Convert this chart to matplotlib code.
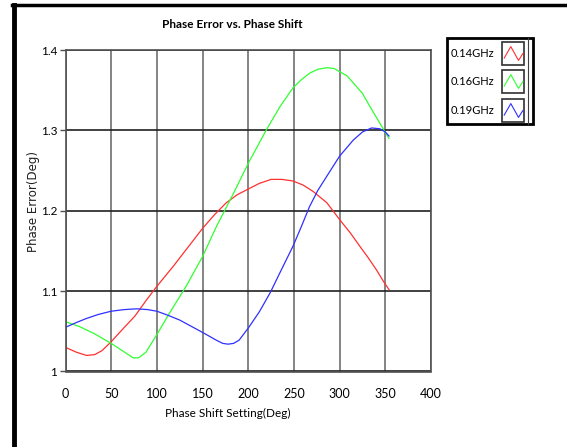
import numpy as np
import matplotlib.pyplot as plt
from matplotlib.patches import Rectangle
from matplotlib.lines import Line2D

# values
x_red = [0, 12, 23, 32, 40, 50, 62, 76, 88, 100, 118, 135, 150, 163, 176, 188, 200, 212, 225,
         237, 249, 260, 271, 286, 300, 312, 322, 331, 340, 348, 354]
y_red = [1.030, 1.024, 1.020, 1.021, 1.026, 1.037, 1.052, 1.069, 1.088, 1.106, 1.131, 1.156,
         1.178, 1.195, 1.210, 1.220, 1.227, 1.234, 1.239, 1.239, 1.237, 1.232, 1.224, 1.210,
         1.189, 1.172, 1.156, 1.142, 1.127, 1.112, 1.102]

x_green = [0, 15, 30, 50, 62, 74, 80, 88, 100, 114, 132, 150, 165, 184, 200, 220, 235, 249,
           258, 267, 276, 286, 294, 300, 308, 315, 325, 333, 344, 354]
y_green = [1.062, 1.056, 1.048, 1.035, 1.026, 1.017, 1.017, 1.024, 1.046, 1.073, 1.106, 1.143,
           1.180, 1.222, 1.259, 1.301, 1.330, 1.353, 1.363, 1.371, 1.376, 1.378, 1.377, 1.373,
           1.368, 1.359, 1.346, 1.330, 1.309, 1.290]

x_blue = [0, 12, 23, 36, 50, 64, 78, 90, 100, 112, 125, 138, 151, 165, 172, 178, 184, 190,
          200, 212, 224, 236, 249, 258, 267, 276, 286, 300, 315, 325, 335, 344, 350, 354]
y_blue = [1.055, 1.061, 1.066, 1.071, 1.075, 1.077, 1.078, 1.077, 1.075, 1.070, 1.064, 1.056,
          1.048, 1.039, 1.035, 1.034, 1.035, 1.039, 1.054, 1.074, 1.098, 1.126, 1.156, 1.180,
          1.205, 1.225, 1.243, 1.268, 1.288, 1.298, 1.303, 1.302, 1.298, 1.293]

labels = ['0.14GHz', '0.16GHz', '0.19GHz']
colors = ['#ff3030', '#30ff30', '#3030ff']

W, H = 567, 447
fig = plt.figure(figsize=(W / 100, H / 100), dpi=100)
narrow = ['Lato', 'DejaVu Sans']

def fx(px):
    return px / W

def fy(py):
    return 1 - py / H

# outer frame (left and top only)
fig.add_artist(Line2D([fx(14), fx(14)], [fy(5), 0], color='black', lw=3.5, transform=fig.transFigure))
fig.add_artist(Line2D([fx(12), 1], [fy(5), fy(5)], color='black', lw=2.5, transform=fig.transFigure))

ax = fig.add_axes([fx(65.5), fy(371.5), fx(431) - fx(65.5), fy(50) - fy(371.5)])
for xs, ys, c in zip([x_red, x_green, x_blue], [y_red, y_green, y_blue], colors):
    ax.plot(xs, ys, color=c, lw=0.9)

ax.set_xlim(0, 400)
ax.set_ylim(1.0, 1.4)
ax.set_xticks(np.arange(0, 401, 50))
ax.set_yticks([1.0, 1.1, 1.2, 1.3, 1.4])
ax.set_yticklabels(['1', '1.1', '1.2', '1.3', '1.4'])
ax.xaxis.grid(True, color='#707070', lw=1.2)
ax.yaxis.grid(True, color='#202020', lw=1.2)
ax.set_axisbelow(True)
for s in ax.spines.values():
    s.set_color('#505050')
    s.set_linewidth(1.2)
ax.tick_params(axis='x', length=0, pad=12, labelsize=9)
ax.tick_params(axis='y', length=4, width=1, color='#505050', pad=2, labelsize=8.5)
for t in ax.get_xticklabels() + ax.get_yticklabels():
    t.set_family(narrow)

fig.text(fx(232), fy(24), 'Phase Error vs. Phase Shift', ha='center', va='center',
         fontsize=8.5, fontweight='bold', family=narrow)
fig.text(fx(228), fy(413), 'Phase Shift Setting(Deg)', ha='center', va='center',
         fontsize=8.5, family=narrow)
fig.text(fx(34), fy(202), 'Phase Error(Deg)', ha='center', va='center', rotation=90,
         fontsize=8.5, family='DejaVu Sans', color='#202020')

# legend box drawn by hand
fig.add_artist(Rectangle((fx(447), fy(124)), fx(533) - fx(447), fy(38) - fy(124),
                         fill=False, ec='black', lw=2, transform=fig.transFigure))
fig.add_artist(Line2D([fx(528), fx(528)], [fy(124), fy(38)], color='#404040', lw=0.8,
                      transform=fig.transFigure))
rows = [(42, 65), (70, 93), (99, 122)]
icon_x = np.array([0.1, 0.4, 0.75, 0.95])
icon_y = np.array([0.3, 0.8, 0.2, 0.5])
for (y0, y1), lab, c in zip(rows, labels, colors):
    fig.add_artist(Rectangle((fx(502), fy(y1)), fx(524) - fx(502), fy(y0) - fy(y1),
                             fill=False, ec='#303030', lw=1.2, transform=fig.transFigure))
    xs = fx(502 + icon_x * 22)
    ys = fy(y1 - icon_y * (y1 - y0))
    fig.add_artist(Line2D(xs, ys, color=c, lw=0.8, transform=fig.transFigure))
    fig.text(fx(494), fy((y0 + y1) / 2), lab, ha='right', va='center', fontsize=8,
             family=narrow)

fig.savefig('out.png', dpi=100)
